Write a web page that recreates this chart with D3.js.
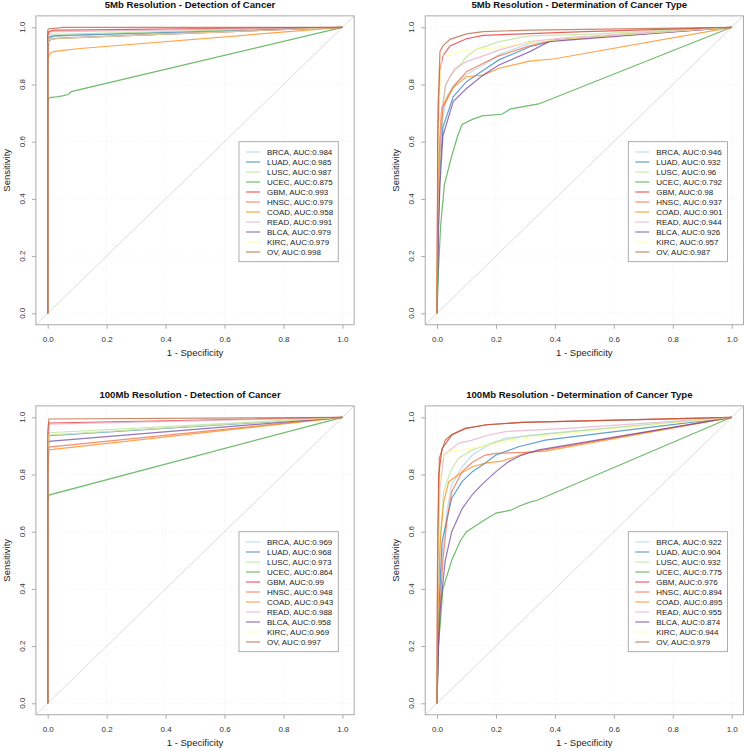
<!DOCTYPE html>
<html>
<head>
<meta charset="utf-8">
<script src="https://cdn.jsdelivr.net/npm/d3@7"></script>
<style>
  body { margin: 0; background: #fff; }
  svg { display: block; }
  text { font-family: "Liberation Sans", Arial, Helvetica, sans-serif; }
</style>
</head>
<body>
<div id="chart"></div>
<script>
var cancers = ["BRCA", "LUAD", "LUSC", "UCEC", "GBM", "HNSC", "COAD", "READ", "BLCA", "KIRC", "OV"];
var lineColors = ["#A6CEE3", "#1F78B4", "#B2DF8A", "#33A02C", "#E31A1C", "#F0603C", "#FF7F00", "#E3A6C0", "#6A3D9A", "#FFFF99", "#B15928"];
var titles = ["5Mb Resolution - Detection of Cancer", "5Mb Resolution - Determination of Cancer Type",
              "100Mb Resolution - Detection of Cancer", "100Mb Resolution - Determination of Cancer Type"];
var ticks = [0, 0.2, 0.4, 0.6, 0.8, 1];

var auc5Detect   = ["0.984", "0.985", "0.987", "0.875", "0.993", "0.979", "0.958", "0.991", "0.979", "0.979", "0.998"];
var auc5Type     = ["0.946", "0.932", "0.96",  "0.792", "0.98",  "0.937", "0.901", "0.944", "0.926", "0.957", "0.987"];
var auc100Detect = ["0.969", "0.968", "0.973", "0.864", "0.99",  "0.948", "0.943", "0.988", "0.958", "0.969", "0.997"];
var auc100Type   = ["0.922", "0.904", "0.932", "0.775", "0.976", "0.894", "0.895", "0.955", "0.874", "0.944", "0.979"];

// [1 - specificity, sensitivity] points, one array per cancer (same order as cancers)
var roc5Detect = [
  [[0,0],[0,0.94],[0.004,0.955],[0.01,0.965],[0.03,0.968],[0.06,0.97],[1,1]],
  [[0,0],[0,0.95],[0.005,0.965],[0.02,0.97],[0.05,0.972],[1,1]],
  [[0,0],[0,0.96],[0.005,0.97],[0.02,0.975],[0.05,0.976],[1,1]],
  [[0,0],[0,0.72],[0.003,0.75],[0.01,0.755],[0.03,0.757],[0.05,0.76],[0.07,0.765],[0.08,0.775],[1,1]],
  [[0,0],[0,0.97],[0.004,0.985],[0.02,0.99],[0.05,0.99],[1,1]],
  [[0,0],[0,0.84],[0.003,0.95],[0.01,0.958],[0.03,0.96],[0.06,0.962],[1,1]],
  [[0,0],[0,0.89],[0.005,0.9],[0.01,0.91],[0.02,0.915],[0.06,0.92],[0.1,0.925],[1,1]],
  [[0,0],[0,0.95],[0.005,0.975],[0.015,0.985],[0.04,0.985],[1,1]],
  [[0,0],[0,0.93],[0.004,0.955],[0.02,0.96],[0.04,0.962],[1,1]],
  [[0,0],[0,0.94],[0.005,0.958],[0.03,0.96],[0.05,0.962],[1,1]],
  [[0,0],[0,0.99],[0.003,0.995],[0.04,0.998],[0.05,1],[1,1]]
];

var roc5Type = [
  [[0,0],[0.003,0.3],[0.01,0.55],[0.02,0.68],[0.033,0.757],[0.06,0.804],[0.1,0.835],[0.157,0.868],[0.21,0.905],[0.315,0.944],[0.45,0.96],[1,1]],
  [[0,0],[0.005,0.3],[0.01,0.5],[0.02,0.65],[0.055,0.757],[0.1,0.81],[0.157,0.85],[0.21,0.886],[0.315,0.932],[0.4,0.955],[1,1]],
  [[0,0],[0.005,0.4],[0.015,0.65],[0.027,0.79],[0.044,0.83],[0.072,0.86],[0.1,0.897],[0.134,0.923],[0.21,0.95],[0.315,0.97],[0.5,0.975],[1,1]],
  [[0,0],[0.005,0.15],[0.012,0.3],[0.025,0.45],[0.05,0.55],[0.07,0.62],[0.085,0.66],[0.12,0.678],[0.153,0.69],[0.22,0.696],[0.25,0.715],[0.345,0.732],[1,1]],
  [[0,0],[0.003,0.6],[0.01,0.85],[0.02,0.9],[0.044,0.935],[0.1,0.96],[0.157,0.972],[0.315,0.978],[0.5,0.985],[1,1]],
  [[0,0],[0.005,0.4],[0.01,0.6],[0.02,0.72],[0.055,0.79],[0.1,0.845],[0.157,0.874],[0.21,0.9],[0.315,0.935],[0.4,0.955],[1,1]],
  [[0,0],[0.003,0.4],[0.008,0.6],[0.016,0.72],[0.055,0.79],[0.1,0.827],[0.157,0.833],[0.21,0.857],[0.315,0.882],[0.4,0.89],[1,1]],
  [[0,0],[0.005,0.4],[0.015,0.7],[0.03,0.8],[0.06,0.856],[0.1,0.88],[0.157,0.9],[0.21,0.92],[0.315,0.95],[0.45,0.965],[1,1]],
  [[0,0],[0.005,0.3],[0.01,0.45],[0.02,0.62],[0.055,0.74],[0.1,0.786],[0.157,0.833],[0.21,0.868],[0.315,0.915],[0.38,0.95],[1,1]],
  [[0,0],[0.003,0.5],[0.01,0.8],[0.016,0.9],[0.06,0.91],[0.1,0.92],[0.21,0.93],[0.3,0.945],[0.45,0.96],[1,1]],
  [[0,0],[0.003,0.7],[0.01,0.915],[0.02,0.935],[0.044,0.958],[0.1,0.977],[0.157,0.985],[0.315,0.99],[1,1]]
];

var roc100Detect = [
  [[0,0],[0,0.85],[0.004,0.938],[1,1]],
  [[0,0],[0,0.85],[0.004,0.936],[1,1]],
  [[0,0],[0,0.86],[0.004,0.946],[1,1]],
  [[0,0],[0,0.7],[0.004,0.728],[1,1]],
  [[0,0],[0,0.81],[0.004,0.98],[1,1]],
  [[0,0],[0,0.81],[0.004,0.896],[1,1]],
  [[0,0],[0,0.8],[0.004,0.886],[1,1]],
  [[0,0],[0,0.9],[0.004,0.976],[1,1]],
  [[0,0],[0,0.84],[0.004,0.916],[1,1]],
  [[0,0],[0,0.85],[0.004,0.938],[1,1]],
  [[0,0],[0,0.95],[0.004,0.994],[1,1]]
];

var roc100Type = [
  [[0,0],[0.005,0.3],[0.02,0.55],[0.035,0.68],[0.05,0.763],[0.085,0.827],[0.12,0.868],[0.164,0.897],[0.232,0.927],[0.345,0.94],[0.5,0.955],[1,1]],
  [[0,0],[0.005,0.3],[0.017,0.565],[0.05,0.717],[0.085,0.775],[0.12,0.81],[0.164,0.84],[0.2,0.868],[0.277,0.897],[0.367,0.92],[1,1]],
  [[0,0],[0.005,0.4],[0.012,0.6],[0.023,0.74],[0.045,0.81],[0.073,0.857],[0.12,0.886],[0.2,0.915],[0.288,0.932],[0.458,0.95],[1,1]],
  [[0,0],[0.005,0.2],[0.02,0.4],[0.05,0.5],[0.08,0.57],[0.1,0.6],[0.13,0.62],[0.16,0.64],[0.2,0.665],[0.25,0.675],[0.28,0.69],[0.32,0.705],[0.34,0.71],[1,1]],
  [[0,0],[0.002,0.5],[0.006,0.8],[0.017,0.89],[0.05,0.938],[0.096,0.96],[0.164,0.974],[0.288,0.982],[1,1]],
  [[0,0],[0.005,0.25],[0.02,0.5],[0.035,0.65],[0.05,0.74],[0.085,0.81],[0.12,0.843],[0.164,0.868],[0.2,0.874],[0.32,0.878],[1,1]],
  [[0,0],[0.003,0.3],[0.011,0.565],[0.023,0.705],[0.04,0.775],[0.073,0.8],[0.12,0.827],[0.164,0.84],[0.22,0.847],[0.266,0.862],[0.31,0.878],[0.367,0.882],[1,1]],
  [[0,0],[0.003,0.5],[0.01,0.75],[0.023,0.868],[0.073,0.909],[0.12,0.92],[0.175,0.938],[0.232,0.95],[0.458,0.962],[1,1]],
  [[0,0],[0.005,0.2],[0.011,0.33],[0.028,0.5],[0.05,0.6],[0.085,0.68],[0.12,0.73],[0.15,0.763],[0.2,0.81],[0.243,0.845],[0.288,0.868],[0.345,0.886],[1,1]],
  [[0,0],[0.003,0.5],[0.008,0.75],[0.017,0.857],[0.04,0.88],[0.12,0.892],[0.232,0.915],[0.345,0.932],[0.5,0.95],[1,1]],
  [[0,0],[0.002,0.5],[0.008,0.857],[0.028,0.92],[0.05,0.94],[0.096,0.962],[0.175,0.974],[0.288,0.982],[1,1]]
];

var panels = [
  {title: titles[0], auc: auc5Detect,   roc: roc5Detect,   col: 0, row: 0},
  {title: titles[1], auc: auc5Type,     roc: roc5Type,     col: 1, row: 0},
  {title: titles[2], auc: auc100Detect, roc: roc100Detect, col: 0, row: 1},
  {title: titles[3], auc: auc100Type,   roc: roc100Type,   col: 1, row: 1}
];

var W = 745, H = 751;
var colX = [47.7, 437], rowY = [27.3, 417.3];
var pw = 294.7, ph = 286;
var fmt = d3.format(".1f");

var svg = d3.select("#chart").append("svg").attr("width", W).attr("height", H);

panels.forEach(function(p) {
  var g = svg.append("g").attr("transform", "translate(" + colX[p.col] + "," + rowY[p.row] + ")");
  var x = d3.scaleLinear().domain([0, 1]).range([0, pw]);
  var y = d3.scaleLinear().domain([0, 1]).range([ph, 0]);
  var bx0 = x(-0.04), bx1 = x(1.04), by0 = y(1.04), by1 = y(-0.04);

  // faint grid
  g.append("g").selectAll("line.gv").data(ticks).enter().append("line")
    .attr("x1", d => x(d)).attr("x2", d => x(d)).attr("y1", by0).attr("y2", by1)
    .attr("stroke", "#e6e6e6").attr("stroke-width", 0.6).attr("stroke-dasharray", "1,2");
  g.append("g").selectAll("line.gh").data(ticks).enter().append("line")
    .attr("y1", d => y(d)).attr("y2", d => y(d)).attr("x1", bx0).attr("x2", bx1)
    .attr("stroke", "#e6e6e6").attr("stroke-width", 0.6).attr("stroke-dasharray", "1,2");

  // reference diagonal
  g.append("line")
    .attr("x1", bx0).attr("y1", by1).attr("x2", bx1).attr("y2", by0)
    .attr("stroke", "#d3d3d3").attr("stroke-width", 0.8);

  var line = d3.line().x(d => x(d[0])).y(d => y(d[1]));
  g.append("g").selectAll("path").data(p.roc).enter().append("path")
    .attr("d", line)
    .attr("fill", "none")
    .attr("stroke", (d, i) => lineColors[i])
    .attr("stroke-width", 1.2)
    .attr("stroke-opacity", 0.7);

  // plot box
  g.append("rect")
    .attr("x", bx0).attr("y", by0).attr("width", bx1 - bx0).attr("height", by1 - by0)
    .attr("fill", "none").attr("stroke", "#aaa").attr("stroke-width", 1);

  var ax = g.append("g").attr("transform", "translate(0," + by1 + ")")
    .call(d3.axisBottom(x).tickValues(ticks).tickFormat(fmt).tickSize(4).tickPadding(8));
  ax.select(".domain").remove();
  ax.selectAll("line").attr("stroke", "#aaa");
  ax.selectAll("text").attr("fill", "#333").style("font-size", "8px");

  var ay = g.append("g").attr("transform", "translate(" + bx0 + ",0)")
    .call(d3.axisLeft(y).tickValues(ticks).tickFormat("").tickSize(4));
  ay.select(".domain").remove();
  ay.selectAll("line").attr("stroke", "#aaa");
  g.append("g").selectAll("text").data(ticks).enter().append("text")
    .attr("transform", d => "translate(" + (bx0 - 11) + "," + y(d) + ") rotate(-90)")
    .attr("text-anchor", "middle")
    .attr("fill", "#333").style("font-size", "8px")
    .text(fmt);

  g.append("text")
    .attr("x", x(0.5)).attr("y", by1 + 31)
    .attr("text-anchor", "middle").style("font-size", "9.5px").attr("fill", "#222")
    .text("1 - Specificity");
  g.append("text")
    .attr("transform", "translate(" + (bx0 - 26.4) + "," + y(0.5) + ") rotate(-90)")
    .attr("text-anchor", "middle").style("font-size", "9.5px").attr("fill", "#222")
    .text("Sensitivity");
  g.append("text")
    .attr("x", x(0.5) - 5).attr("y", by0 - 7.4)
    .attr("text-anchor", "middle").style("font-size", "9.6px").style("font-weight", "bold")
    .attr("fill", "#111")
    .text(p.title);

  // legend
  var lg = g.append("g").attr("transform", "translate(" + x(0.649) + "," + y(0.6) + ")");
  lg.append("rect").attr("width", 99.3).attr("height", 120)
    .attr("fill", "#fff").attr("stroke", "#999").attr("stroke-width", 0.8);
  var rows = lg.selectAll("g.row").data(cancers).enter().append("g")
    .attr("transform", (d, i) => "translate(0," + (10.3 + i * 10) + ")");
  rows.append("line").attr("x1", 7).attr("x2", 21)
    .attr("stroke", (d, i) => lineColors[i]).attr("stroke-width", 1.2).attr("stroke-opacity", 0.7);
  rows.append("text").attr("x", 28).attr("dy", "0.35em")
    .style("font-size", "8px").attr("fill", "#222")
    .text((d, i) => d + ", AUC:" + p.auc[i]);
});
</script>
</body>
</html>
